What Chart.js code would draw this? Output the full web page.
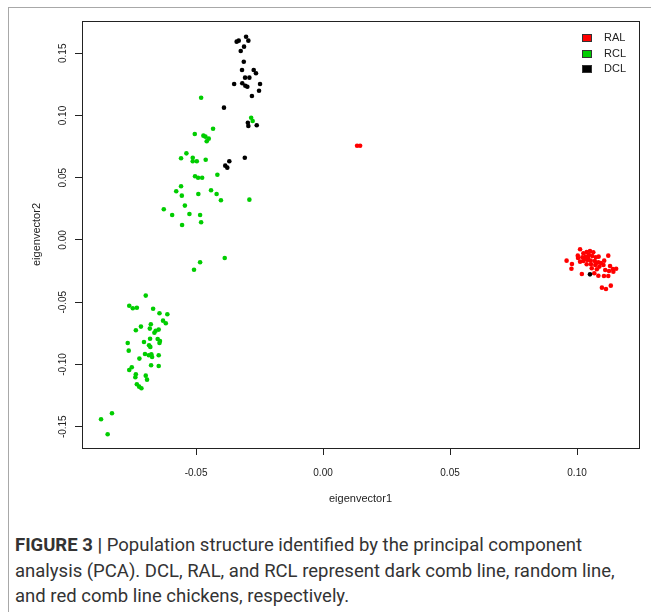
<!DOCTYPE html>
<html>
<head>
<meta charset="utf-8">
<script src="https://cdn.jsdelivr.net/npm/chart.js@4.4.1/dist/chart.umd.min.js"></script>
<style>
  body { margin: 0; background: #fff; }
  #wrap { position: relative; width: 651px; height: 612px; overflow: hidden; }
  #frame { position: absolute; left: 8px; top: 7px; width: 700px; height: 700px;
           border-left: 1px solid #a8a8a8; border-top: 1px solid #a8a8a8; }
  #myChart { position: absolute; left: 0; top: 0; }
  #legend { position: absolute; left: 582px; top: 30px; font: 11px 'Liberation Sans', Arial, sans-serif; color: #222; }
  #legend div { height: 15.6px; line-height: 14px; white-space: nowrap; }
  #legend span.box { display: inline-block; width: 8px; height: 6px; border: 1px solid #333; margin-right: 12px; vertical-align: -1px; }
  #caption { position: absolute; left: 15px; top: 533px; width: 636px; font: 18.5px Roboto, sans-serif;
             color: #333; line-height: 25.5px; white-space: nowrap; }
</style>
</head>
<body>
<div id="wrap">
  <div id="frame"></div>
  <canvas id="myChart" width="651" height="518"></canvas>
  <div id="legend"></div>
  <div id="caption"><b>FIGURE 3 |</b> Population structure identified by the principal component<br>analysis (PCA). DCL, RAL, and RCL represent dark comb line, random line,<br>and red comb line chickens, respectively.</div>
</div>
<script>
// axis ticks and ranges
const xTicks = [-0.05, 0.00, 0.05, 0.10]
const yTicks = [-0.15, -0.10, -0.05, 0.00, 0.05, 0.10, 0.15]
const xMin = -0.0949
const xMax = 0.1244
const yMin = -0.1671
const yMax = 0.1759

// RAL (random line)
const ralX = [0.0134, 0.0146,
  0.1012, 0.1003, 0.1025, 0.1038, 0.1051, 0.1064, 0.1021, 0.1034, 0.1047, 0.1060,
  0.1074, 0.1085, 0.1123, 0.1107, 0.0959, 0.0980, 0.0978, 0.1012, 0.1025, 0.1041,
  0.1054, 0.1070, 0.1084, 0.1038, 0.1055, 0.1072, 0.1088, 0.1104, 0.1130, 0.1141,
  0.1154, 0.1058, 0.1078, 0.1111, 0.1126, 0.1143, 0.1019, 0.1068, 0.1084, 0.1106,
  0.1123, 0.1133, 0.1098, 0.1114, 0.1031, 0.1043, 0.1075, 0.1094, 0.1004]
const ralY = [0.0757, 0.0757,
  -0.0075, -0.0126, -0.0107, -0.0096, -0.0088, -0.0099, -0.0139, -0.0134, -0.0120, -0.0129,
  -0.0139, -0.0134, -0.0126, -0.0166, -0.0166, -0.0193, -0.0231, -0.0174, -0.0169, -0.0161,
  -0.0166, -0.0169, -0.0179, -0.0195, -0.0195, -0.0201, -0.0214, -0.0201, -0.0209, -0.0233,
  -0.0231, -0.0227, -0.0235, -0.0241, -0.0249, -0.0255, -0.0273, -0.0267, -0.0287, -0.0289,
  -0.0289, -0.0367, -0.0383, -0.0394, -0.0153, -0.0145, -0.0185, -0.0185, -0.0145]

// RCL (red comb line)
const rclX = [-0.0480, -0.0283, -0.0277, -0.0433, -0.0505, -0.0471, -0.0463, -0.0450,
  -0.0458, -0.0538, -0.0559, -0.0513, -0.0513, -0.0497, -0.0462, -0.0416, -0.0504,
  -0.0492, -0.0476, -0.0559, -0.0578, -0.0556, -0.0491, -0.0441, -0.0419, -0.0402,
  -0.0290, -0.0544, -0.0627, -0.0594, -0.0526, -0.0484, -0.0555, -0.0480, -0.0484,
  -0.0508, -0.0387,
  -0.0698, -0.0763, -0.0749, -0.0733, -0.0669, -0.0644, -0.0613, -0.0630, -0.0619,
  -0.0678, -0.0717, -0.0737, -0.0682, -0.0659, -0.0647, -0.0664, -0.0769, -0.0705,
  -0.0681, -0.0651, -0.0642, -0.0644, -0.0685, -0.0680, -0.0765, -0.0701, -0.0686,
  -0.0676, -0.0673, -0.0647, -0.0723, -0.0677, -0.0647, -0.0753, -0.0763, -0.0737,
  -0.0739, -0.0698, -0.0693, -0.0733, -0.0724, -0.0715, -0.0831, -0.0874, -0.0848]
const rclY = [0.1143, 0.0982, 0.0956, 0.0894, 0.0851, 0.0838, 0.0830, 0.0814,
  0.0793, 0.0696, 0.0656, 0.0661, 0.0632, 0.0632, 0.0645, 0.0524, 0.0512,
  0.0500, 0.0500, 0.0431, 0.0391, 0.0356, 0.0369, 0.0399, 0.0369, 0.0319,
  0.0324, 0.0276, 0.0247, 0.0201, 0.0209, 0.0201, 0.0120, 0.0142, -0.0179,
  -0.0239, -0.0145,
  -0.0447, -0.0528, -0.0549, -0.0544, -0.0552, -0.0589, -0.0597, -0.0648, -0.0669,
  -0.0677, -0.0696, -0.0725, -0.0712, -0.0729, -0.0720, -0.0745, -0.0827, -0.0819,
  -0.0793, -0.0795, -0.0811, -0.0827, -0.0846, -0.0859, -0.0889, -0.0916, -0.0926,
  -0.0918, -0.0940, -0.0926, -0.0953, -0.1006, -0.1012, -0.1022, -0.1044, -0.1079,
  -0.1103, -0.1090, -0.1122, -0.1159, -0.1178, -0.1191, -0.1392, -0.1440, -0.1561]

// DCL (dark comb line)
const dclX = [-0.0332, -0.0340, -0.0303, -0.0294, -0.0311, -0.0324, -0.0312, -0.0319,
  -0.0273, -0.0264, -0.0307, -0.0290, -0.0318, -0.0306, -0.0298, -0.0350, -0.0248,
  -0.0252, -0.0280, -0.0390, -0.0296, -0.0294, -0.0261, -0.0308, -0.0369, -0.0385,
  -0.0377, 0.1051]
const dclY = [0.1601, 0.1593, 0.1633, 0.1601, 0.1553, 0.1518, 0.1432, 0.1365,
  0.1365, 0.1339, 0.1304, 0.1304, 0.1259, 0.1239, 0.1231, 0.1253, 0.1253,
  0.1199, 0.1157, 0.1063, 0.0942, 0.0916, 0.0921, 0.0661, 0.0632, 0.0597,
  0.0581, -0.0276]

const groups = ['RAL', 'RCL', 'DCL']
const colors = ['#ff0000', '#00cd00', '#000000']

function toPoints(xs, ys) {
  return xs.map((x, i) => ({ x: x, y: ys[i] }))
}

const axisColor = '#222'
const tickFont = { family: "'Liberation Sans', Arial, sans-serif", size: 10 }
const titleFont = { family: "'Liberation Sans', Arial, sans-serif", size: 11 }

// R style box around the plot region
const boxPlugin = {
  id: 'box',
  afterDraw(chart) {
    const a = chart.chartArea
    const c = chart.ctx
    c.save()
    c.strokeStyle = axisColor
    c.lineWidth = 1
    c.strokeRect(Math.round(a.left) + 0.5, Math.round(a.top) + 0.5,
                 Math.round(a.right - a.left), Math.round(a.bottom - a.top))
    c.restore()
  }
}

const ctx = document.getElementById('myChart').getContext('2d')
const myChart = new Chart(ctx, {
  type: 'scatter',
  data: {
    datasets: [
      // DCL first so it is drawn on top
      { label: 'DCL', data: toPoints(dclX, dclY), backgroundColor: colors[2] },
      { label: 'RCL', data: toPoints(rclX, rclY), backgroundColor: colors[1] },
      { label: 'RAL', data: toPoints(ralX, ralY), backgroundColor: colors[0] }
    ]
  },
  options: {
    responsive: false,
    animation: false,
    devicePixelRatio: 1,
    layout: { padding: { left: 22, top: 21, right: 12, bottom: 0 } },
    elements: { point: { radius: 2.3, borderWidth: 0, hoverRadius: 2.3 } },
    plugins: { legend: { display: false }, tooltip: { enabled: false } },
    scales: {
      x: {
        type: 'linear',
        min: xMin,
        max: xMax,
        afterBuildTicks: s => { s.ticks = xTicks.map(v => ({ value: v })) },
        afterFit: s => { s.height = 70 },
        grid: { drawOnChartArea: false, drawTicks: true, tickLength: 7, color: axisColor },
        border: { display: true, color: axisColor },
        ticks: { padding: 12, color: axisColor, font: tickFont, maxRotation: 0,
                 callback: v => v.toFixed(2) },
        title: { display: true, text: 'eigenvector1', color: axisColor, font: titleFont,
                 padding: { top: 0, bottom: 12 } }
      },
      y: {
        type: 'linear',
        min: yMin,
        max: yMax,
        afterBuildTicks: s => { s.ticks = yTicks.map(v => ({ value: v })) },
        afterFit: s => { s.width = 60 },
        grid: { drawOnChartArea: false, drawTicks: true, tickLength: 7, color: axisColor },
        border: { display: true, color: axisColor },
        ticks: { padding: 0, color: axisColor, font: tickFont, minRotation: 90, maxRotation: 90,
                 crossAlign: 'center', callback: v => v.toFixed(2) },
        title: { display: true, text: 'eigenvector2', color: axisColor, font: titleFont,
                 padding: { top: 8, bottom: 0 } }
      }
    }
  },
  plugins: [boxPlugin]
})

// legend in the top right corner, R style
const legend = document.getElementById('legend')
groups.forEach((g, i) => {
  const row = document.createElement('div')
  row.innerHTML = '<span class="box" style="background:' + colors[i] + '"></span>' + g
  legend.appendChild(row)
})
</script>
</body>
</html>
